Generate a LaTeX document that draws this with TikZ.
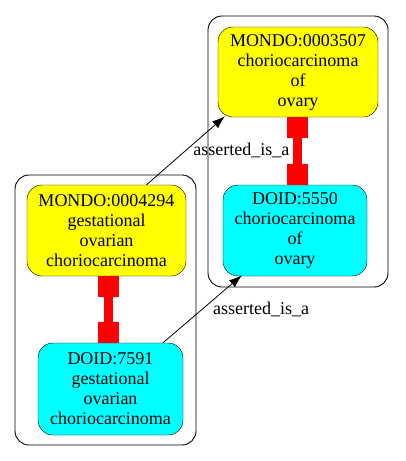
\documentclass[tikz,border=0pt]{standalone}
\usepackage{fontspec}
\setmainfont{Liberation Serif}
\usetikzlibrary{arrows.meta}
\usetikzlibrary{positioning}
\definecolor{doidcyan}{RGB}{0,255,255}
\definecolor{mondoyellow}{RGB}{255,255,0}
\definecolor{eqred}{RGB}{255,0,0}

\begin{document}
\begin{tikzpicture}[x=1pt,y=-1pt,
    term/.style={draw,rounded corners=15pt,align=center,inner sep=0pt,
      font=\fontsize{18}{20}\selectfont},
    mondo/.style={term,fill=mondoyellow},
    doid/.style={term,fill=doidcyan},
    cluster/.style={draw,rounded corners=14pt,line width=0.9pt},
    isa/.style={-{Latex[length=13pt,width=9pt]},line width=0.8pt},
    lbl/.style={font=\fontsize{18}{20}\selectfont},
    eqthin/.style={draw=eqred,line width=9pt},
    eqwide/.style={draw=eqred,line width=21pt}]
  \useasboundingbox (0,0) rectangle (405,461);
  % the two clusters
  \draw[cluster] (208,16) rectangle (388,287);
  \draw[cluster] (15,175) rectangle (196,445);
  % terms
  \node[mondo,minimum width=160pt,minimum height=90pt] (m3507) at (298,72)
    {MONDO:0003507\\choriocarcinoma\\of\\ovary};
  \node[doid,minimum width=144pt,minimum height=91pt] (d5550) at (295,230.5)
    {DOID:5550\\choriocarcinoma\\of\\ovary};
  \node[mondo,minimum width=159pt,minimum height=91pt] (m4294) at (106.5,230.5)
    {MONDO:0004294\\gestational\\ovarian\\choriocarcinoma};
  \node[doid,minimum width=145pt,minimum height=92pt] (d7591) at (110.5,389)
    {DOID:7591\\gestational\\ovarian\\choriocarcinoma};
  % equivalence links
  \foreach \top/\bot/\xx in {m3507/d5550/297,m4294/d7591/108}{
    \coordinate (t) at (\xx,0 |- \top.south);
    \coordinate (b) at (\xx,0 |- \bot.north);
    \draw[eqthin] (t) -- (b);
    \draw[eqwide] (t) -- ([yshift=-21pt]t);
    \draw[eqwide] (b) -- ([yshift=21pt]b);
  }
  % is_a arrows
  \draw[isa] ([xshift=40pt]m4294.north) -- ([xshift=-73pt,yshift=1pt]m3507.south)
    node[lbl,midway,right=4pt] {asserted\_is\_a};
  \draw[isa] ([xshift=52.5pt]d7591.north) -- ([xshift=-53pt,yshift=1pt]d5550.south)
    node[lbl,midway,right=7pt] {asserted\_is\_a};
\end{tikzpicture}
\end{document}
